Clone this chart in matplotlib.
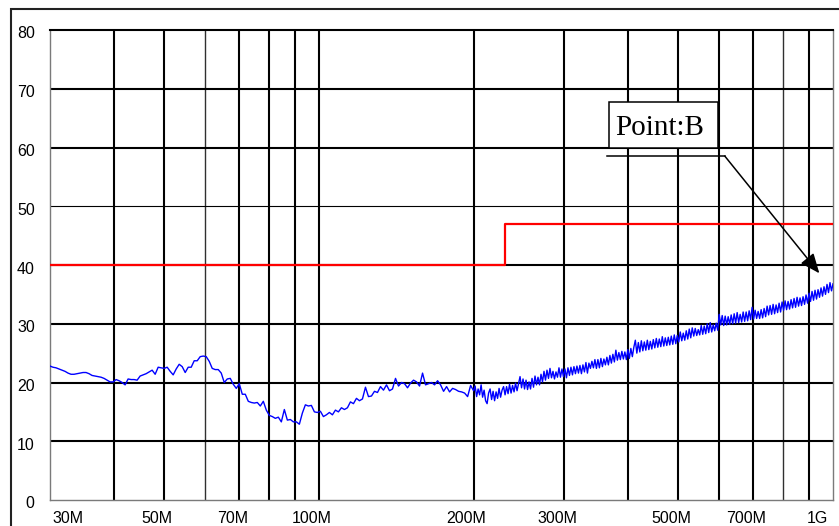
import matplotlib
matplotlib.use("Agg")
import matplotlib.pyplot as plt
import numpy as np
from matplotlib.patches import Rectangle
from matplotlib.transforms import ScaledTranslation

# measured level (dBuV), coarse sweep 30 MHz - 200 MHz
level_lo = [
    22.8, 22.6, 22.5, 22.3, 22.1, 21.9, 21.6, 21.4, 21.4, 21.5,
    21.6, 21.7, 21.7, 21.5, 21.2, 21.1, 21.0, 20.9, 20.7, 20.4,
    20.1, 20.1, 20.5, 20.3, 20.0, 19.6, 20.6, 20.5, 20.5, 20.4,
    21.1, 21.3, 21.5, 21.8, 22.1, 21.4, 22.6, 22.5, 22.4, 22.6,
    21.9, 21.3, 22.3, 23.1, 22.7, 21.7, 22.6, 22.6, 23.7, 23.7,
    24.4, 24.5, 24.4, 23.6, 22.4, 22.2, 22.2, 21.6, 20.0, 20.6,
    20.7, 19.7, 19.0, 19.8, 18.0, 18.0, 16.8, 16.6, 16.5, 16.6,
    16.0, 16.8, 15.3, 14.4, 14.2, 13.9, 14.1, 13.3, 15.4, 13.6,
    13.7, 13.3, 13.3, 12.9, 14.8, 16.2, 16.0, 16.1, 15.0, 14.9,
    15.1, 14.2, 14.5, 14.9, 14.5, 15.3, 15.0, 15.7, 15.4, 15.7,
    16.7, 16.4, 17.3, 16.9, 17.2, 19.2, 17.6, 17.7, 18.5, 18.3,
    19.3, 18.7, 19.6, 18.6, 18.9, 20.7, 19.4, 20.0, 19.8, 19.1,
    19.9, 20.4, 20.1, 19.4, 21.6, 19.6, 19.8, 20.0, 19.6, 20.3,
    19.6, 18.5, 19.3, 18.4, 19.0, 18.8, 18.5, 18.4, 18.2, 17.6,
    19.5, 18.6,
]

# measured level (dBuV), fine sweep 200 MHz - 1 GHz
level_hi = [
    19.4, 17.6, 18.9, 17.9, 19.6, 17.5, 18.7, 16.9, 16.4, 18.2,
    18.9, 17.1, 18.5, 16.9, 18.4, 17.3, 19.0, 17.5, 18.7, 19.3,
    17.9, 19.3, 18.1, 19.7, 18.2, 19.5, 18.4, 19.9, 18.6, 19.8,
    21.0, 19.1, 20.6, 18.9, 20.4, 18.8, 20.1, 18.9, 20.7, 19.2,
    21.1, 19.6, 20.9, 19.6, 21.4, 20.1, 21.9, 20.4, 22.1, 20.7,
    22.4, 20.8, 21.9, 20.6, 21.8, 20.9, 22.5, 20.9, 22.3, 21.0,
    22.3, 20.8, 22.5, 21.2, 22.6, 21.3, 22.7, 21.5, 22.8, 21.6,
    22.9, 21.5, 23.0, 21.8, 23.4, 21.6, 23.3, 22.4, 23.6, 22.5,
    23.9, 22.4, 23.9, 22.5, 24.1, 22.7, 24.0, 23.0, 24.3, 23.0,
    24.6, 23.3, 24.8, 23.5, 25.5, 23.8, 25.1, 23.9, 25.3, 24.0,
    25.2, 23.9, 25.6, 24.1, 25.8, 24.4, 26.0, 27.2, 25.0, 26.8,
    25.2, 27.1, 25.4, 26.9, 25.5, 27.2, 25.6, 27.0, 25.7, 27.3,
    25.9, 27.5, 26.0, 27.4, 26.1, 27.8, 26.2, 27.6, 26.3, 27.7,
    26.4, 27.9, 26.5, 28.1, 26.6, 28.0, 26.9, 28.6, 27.1, 28.4,
    27.2, 28.8, 27.4, 29.1, 27.6, 29.3, 27.9, 29.2, 28.0, 29.0,
    28.1, 29.7, 28.2, 29.6, 28.3, 30.0, 28.5, 30.2, 28.6, 29.8,
    28.8, 30.1, 28.9, 31.6, 29.8, 31.4, 29.7, 31.3, 29.8, 31.2,
    29.9, 31.5, 30.0, 31.7, 30.1, 31.9, 30.2, 31.6, 30.3, 32.0,
    30.4, 32.0, 30.5, 32.2, 30.7, 32.8, 30.8, 32.3, 30.9, 32.1,
    30.9, 32.4, 31.0, 32.6, 31.2, 33.0, 31.5, 33.1, 31.6, 33.3,
    31.7, 33.2, 31.9, 33.5, 32.0, 33.7, 32.3, 33.9, 32.4, 33.8,
    32.5, 34.1, 32.7, 34.3, 32.8, 34.5, 33.0, 34.4, 33.1, 34.6,
    33.3, 34.9, 33.5, 35.2, 33.8, 35.5, 34.0, 35.7, 34.2, 35.8,
    34.5, 36.1, 34.7, 36.3, 35.0, 36.7, 35.3, 37.0, 35.6, 36.8,
]

freq_lo = np.geomspace(30e6, 200e6, len(level_lo))
freq_hi = np.geomspace(200e6, 1e9, len(level_hi) + 1)[1:]
freq = np.concatenate([freq_lo, freq_hi])
level = np.array(level_lo + level_hi)

# limit line
limit_freq = [30e6, 230e6, 1e9]
limit_level = [40, 47, 47]

grid_freq = [40e6, 50e6, 60e6, 70e6, 80e6, 90e6, 100e6,
             200e6, 300e6, 400e6, 500e6, 600e6, 700e6, 800e6, 900e6]
thin_freq = [60e6, 800e6]
grid_level = [10, 20, 30, 40, 50, 60, 70]
y_ticks = [0, 10, 20, 30, 40, 50, 60, 70, 80]
tick_freq = [30e6, 50e6, 70e6, 100e6, 200e6, 300e6, 500e6, 700e6, 1e9]
tick_labels = ["30M", "50M", "70M", "100M", "200M", "300M", "500M", "700M", "1G"]

W, H = 839, 526
fig = plt.figure(figsize=(W / 100, H / 100), dpi=100)
ax = fig.add_axes([50 / W, 26 / H, 783 / W, 470 / H])

ax.set_xscale("log")
ax.set_xlim(30e6, 1e9)
ax.set_ylim(0, 80)

for f in grid_freq:
    if f in thin_freq:
        ax.axvline(f, color="#303030", lw=1.0, zorder=1)
    else:
        ax.axvline(f, color="black", lw=1.5, zorder=1)
for v in grid_level:
    ax.axhline(v, color="black", lw=0.8 if v == 50 else 1.5, zorder=1)

ax.step(limit_freq, limit_level, where="post", color="#ff0000", lw=1.6, zorder=3)
ax.plot(freq, level, color="#0000ff", lw=1.0, zorder=4)

# spines
ax.spines["top"].set_color("black")
ax.spines["top"].set_linewidth(1.5)
for s in ["left", "bottom", "right"]:
    ax.spines[s].set_color("#7a7a7a")
    ax.spines[s].set_linewidth(1.0)

# ticks
ax.minorticks_off()
ax.set_xticks(tick_freq)
ax.set_xticklabels(tick_labels)
ax.set_yticks(y_ticks)
ax.tick_params(axis="both", length=0, labelsize=11.5)
ax.tick_params(axis="x", pad=8)
ax.tick_params(axis="y", pad=11)
for lab in ax.get_xticklabels() + ax.get_yticklabels():
    lab.set_fontfamily("Liberation Sans")

xlabs = ax.get_xticklabels()
for i, lab in enumerate(xlabs):
    dx = -7
    if i == 0:
        lab.set_ha("left")
        dx = 2
    elif i == len(xlabs) - 1:
        lab.set_ha("right")
        dx = -5
    lab.set_transform(lab.get_transform() + ScaledTranslation(dx / 100, 0, fig.dpi_scale_trans))
for lab in ax.get_yticklabels():
    lab.set_transform(lab.get_transform() + ScaledTranslation(0, -2.5 / 100, fig.dpi_scale_trans))

# "Point:B" marker label
ax.add_patch(Rectangle((367e6, 60), 597.6e6 - 367e6, 7.69, facecolor="white",
                       edgecolor="black", lw=1.1, zorder=5))
ax.text(460.6e6, 62.13, "Point:B", ha="center", va="baseline", fontsize=21,
        family="Liberation Serif", zorder=6)
ax.plot([362.7e6, 615.8e6], [58.55, 58.55], color="black", lw=1.1, zorder=6)
ax.annotate("", xy=(940.7e6, 38.59), xytext=(615.8e6, 58.55),
            arrowprops=dict(arrowstyle="-|>,head_length=0.6,head_width=0.25",
                            mutation_scale=20, color="black", lw=1.1,
                            shrinkA=0, shrinkB=0),
            zorder=6)

# outer frame
fig.add_artist(Rectangle((11 / W, -0.1), 2, 1 - 9 / H + 0.1, transform=fig.transFigure,
                         fill=False, edgecolor="#222222", lw=1.5))

fig.savefig("out.png", dpi=100)
